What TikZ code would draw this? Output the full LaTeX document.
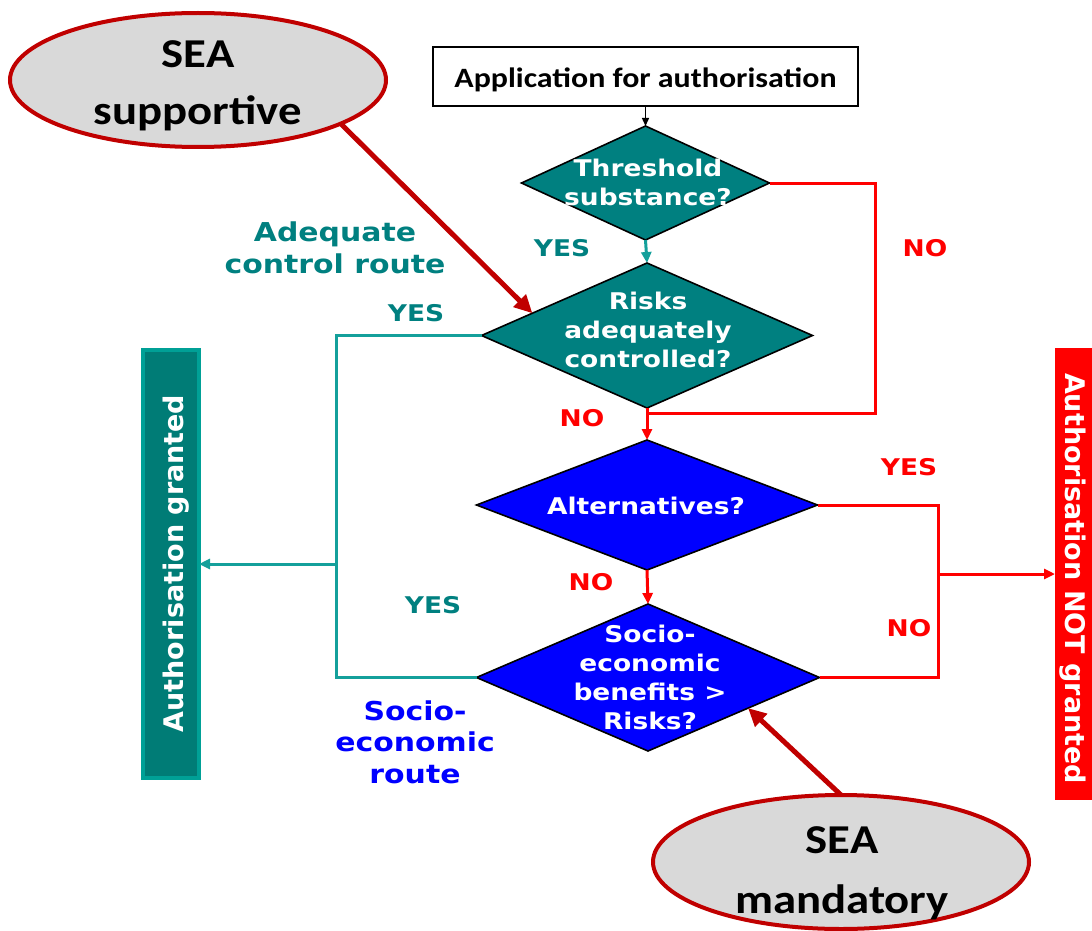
\documentclass[tikz,border=0pt]{standalone}
\usepackage{fontspec}
\usetikzlibrary{shapes.geometric, arrows.meta}
\newfontfamily\vf[FakeStretch=1.15]{DejaVu Sans}
\newfontfamily\vr{DejaVu Sans}
\newfontfamily\cf[FakeStretch=1.14]{Carlito}
\definecolor{tealfill}{RGB}{0,128,128}
\definecolor{teallabel}{RGB}{0,128,128}
\definecolor{tealline}{RGB}{20,160,155}
\definecolor{barfill}{RGB}{0,124,118}
\definecolor{barline}{RGB}{0,160,150}
\definecolor{dkred}{RGB}{192,0,0}
\definecolor{ellfill}{RGB}{217,217,217}
\definecolor{flowblue}{RGB}{0,0,255}
\definecolor{flowred}{RGB}{255,0,0}
\begin{document}
\begin{tikzpicture}[x=1pt, y=-1pt,
  dia/.style={diamond, draw=black, line width=1.6pt, inner sep=0pt, outer sep=0pt},
  dtxt/.style={text=white, align=center, inner sep=0pt, font=\vf\bfseries\fontsize{23}{29}\selectfont},
  lbl/.style={inner sep=0pt, font=\vf\bfseries\fontsize{23}{29}\selectfont},
  route/.style={align=center, inner sep=0pt, font=\vf\bfseries\fontsize{26}{31.5}\selectfont},
  sea/.style={ellipse, fill=ellfill, draw=dkred, line width=4pt, minimum width=376pt, minimum height=134pt, inner sep=0pt, outer sep=0pt},
  seatxt/.style={align=center, inner sep=0pt, font=\cf\bfseries\fontsize{41}{57}\selectfont},
  bartxt/.style={text=white, inner sep=0pt, font=\vr\bfseries\fontsize{27}{32}\selectfont},
  redln/.style={draw=flowred, line width=3pt},
  tealln/.style={draw=tealline, line width=3pt},
  tip/.style={-{Triangle[length=11pt,width=10pt]}},
  bigtip/.style={-{Triangle[length=18pt,width=17pt]}},
]
\useasboundingbox (0,0) rectangle (1092,931);

% start box
\node[draw=black, line width=2.6pt, minimum width=425pt, minimum height=59pt,
      inner sep=0pt, text height=25pt, text depth=3pt,
      font=\cf\bfseries\fontsize{28}{34}\selectfont] (app) at (645.5,76.5) {Application for authorisation};

% decision diamonds
\node[dia, fill=tealfill, minimum width=248pt, minimum height=114pt] (d1) at (645.5,183) {};
\node[dia, fill=tealfill, minimum width=331pt, minimum height=145pt] (d2) at (647,335.5) {};
\node[dia, fill=flowblue, minimum width=341pt, minimum height=130pt] (d3) at (647,505) {};
\node[dia, fill=flowblue, minimum width=343pt, minimum height=147pt] (d4) at (648,677.5) {};

\node[dtxt] (d1t) at (648,182) {Threshold\\substance?};
\node[dtxt] (d2t) at (648,330) {Risks\\adequately\\controlled?};
\node[dtxt] (d3t) at (646,506) {Alternatives?};
\node[dtxt] (d4t) at (650,677) {Socio-\\economic\\benefits >\\Risks?};

% outcome bars
\node[fill=barfill, draw=barline, line width=4pt, minimum width=56pt, minimum height=428pt,
      inner sep=0pt, outer sep=0pt] (gbar) at (171,564) {};
\node[bartxt, rotate=90] (gbart) at (176,563.5) {Authorisation granted};
\node[fill=flowred, minimum width=50pt, minimum height=452pt,
      inner sep=0pt, outer sep=0pt] (nbar) at (1080,574) {};
\node[bartxt, rotate=-90] (nbart) at (1073,578.5) {Authorisation NOT granted};

% SEA callouts
\node[sea] (e1) at (198,80) {};
\node[seatxt] (e1t) at (198,85.5) {SEA\\supportive};
\node[sea] (e2) at (841,862) {};
\node[seatxt, font=\cf\bfseries\fontsize{41}{60}\selectfont] (e2t) at (842,873) {SEA\\mandatory};

% junction points
\coordinate (rc) at (875,413);
\coordinate (rj) at (938,574);
\coordinate (lj) at (336,564);

% connectors
\draw[line width=1.4pt, -{Triangle[length=8pt,width=7pt]}] (app.south) -- (d1.north);
\draw[tealln, tip] (d1.south) -- (d2.north);
\draw[redln] (d1.east) -| (rc) -- (rc -| d2.south);
\draw[redln, tip] (d2.south) -- (d3.north);
\draw[redln, tip] (d3.south) -- (d4.north);
\draw[redln] (d3.east) -| (rj);
\draw[redln] (d4.east) -| (rj);
\draw[redln, tip] (rj) -- (nbar.west);
\draw[tealln] (d2.west) -| (lj);
\draw[tealln] (d4.west) -| (lj);
\draw[tealln, tip] (lj) -- (gbar.east);

\draw[draw=dkred, line width=5pt, bigtip] (e1.-17.6) -- (d2.169.6);
\draw[draw=dkred, line width=5pt, bigtip] (e2.north) -- (d4.-17);

% branch labels
\node[lbl, text=teallabel] (y1) at (562,248.5) {YES};
\node[lbl, text=flowred] (n1) at (925,248) {NO};
\node[lbl, text=teallabel] (y2) at (416,313) {YES};
\node[lbl, text=flowred] (n2) at (582,418) {NO};
\node[lbl, text=flowred] (y3) at (909,467) {YES};
\node[lbl, text=flowred] (n3) at (591,582) {NO};
\node[lbl, text=flowred] (n4) at (909,628) {NO};
\node[lbl, text=teallabel] (y4) at (433,605) {YES};

% route names
\node[route, text=teallabel] (acr) at (335,248) {Adequate\\control route};
\node[route, text=flowblue] (ser) at (415,742) {Socio-\\economic\\route};
\end{tikzpicture}
\end{document}
